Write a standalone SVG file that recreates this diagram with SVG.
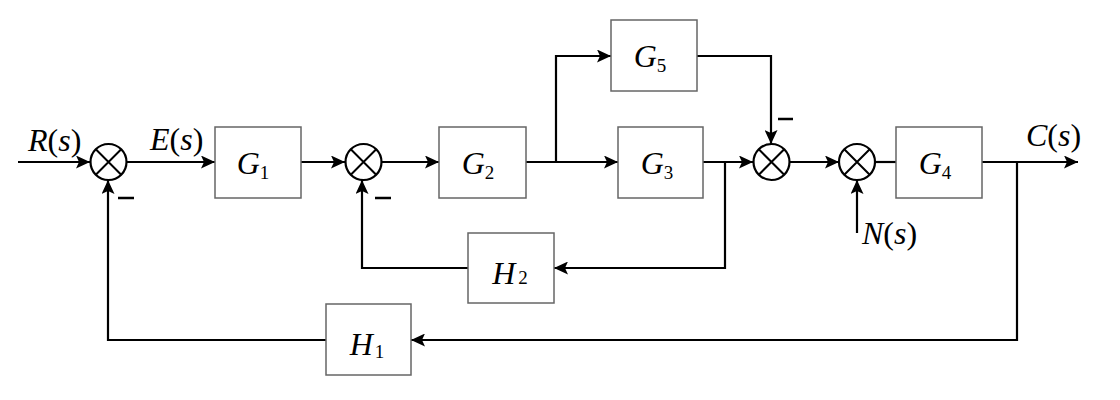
<svg xmlns="http://www.w3.org/2000/svg" width="1120" height="400" viewBox="0 0 1120 400">
<defs>
<marker id="arr" viewBox="0 0 14 13" refX="14" refY="6.5" markerWidth="14" markerHeight="13" markerUnits="userSpaceOnUse" orient="auto">
<path d="M0,0 L14,6.5 L0,13 L3,6.5 Z" fill="#000"/>
</marker>
<style>
.blk{fill:#fff;stroke:#666;stroke-width:1.5}
.sum{fill:#fff;stroke:#000;stroke-width:2.2}
.x{stroke:#000;stroke-width:2}
.ln{fill:none;stroke:#000;stroke-width:2.2}
.a{marker-end:url(#arr)}
.lbl{font-family:"Liberation Serif","Times New Roman",serif;font-size:32px;fill:#000}
.it{font-style:italic}
.sub{font-size:19px;font-style:normal}
.minus{stroke:#000;stroke-width:2.6}
</style>
</defs>
<rect width="1120" height="400" fill="#fff"/>
<g id="connectors">
<path class="ln a" d="M18,162 H90"/>
<path class="ln a" d="M127,162 H215"/>
<path class="ln a" d="M301,162 H345"/>
<path class="ln a" d="M382,162 H439"/>
<path class="ln a" d="M526,162 H618"/>
<path class="ln a" d="M556,162 V56 H611"/>
<path class="ln a" d="M703,162 H753"/>
<path class="ln a" d="M697,56 H771 V144"/>
<path class="ln a" d="M790,162 H839"/>
<path class="ln" d="M875,162 H896"/>
<path class="ln a" d="M982,162 H1078"/>
<path class="ln a" d="M725,162 V268 H554"/>
<path class="ln a" d="M468,268 H362 V180"/>
<path class="ln a" d="M1017,162 V340 H411"/>
<path class="ln a" d="M326,340 H108 V180"/>
<path class="ln a" d="M857,233 V180"/>
<path class="minus" d="M118,198 H134 M375,198 H391 M778,119 H793"/>
</g>
<g id="sum1"><circle class="sum" cx="108.5" cy="162" r="18"/><path class="x" d="M95.8,149.3 L121.2,174.7 M121.2,149.3 L95.8,174.7"/></g>
<g id="sum2"><circle class="sum" cx="363.5" cy="162" r="18"/><path class="x" d="M350.8,149.3 L376.2,174.7 M376.2,149.3 L350.8,174.7"/></g>
<g id="sum3"><circle class="sum" cx="771.5" cy="162" r="18"/><path class="x" d="M758.8,149.3 L784.2,174.7 M784.2,149.3 L758.8,174.7"/></g>
<g id="sum4"><circle class="sum" cx="857" cy="162" r="18"/><path class="x" d="M844.3,149.3 L869.7,174.7 M869.7,149.3 L844.3,174.7"/></g>
<g id="G1"><rect class="blk" x="215" y="127" width="86" height="71"/><text class="lbl" x="253" y="174" text-anchor="middle"><tspan class="it">G</tspan><tspan class="sub" dy="5">1</tspan></text></g>
<g id="G2"><rect class="blk" x="439" y="127" width="87" height="71"/><text class="lbl" x="478" y="174" text-anchor="middle"><tspan class="it">G</tspan><tspan class="sub" dy="5">2</tspan></text></g>
<g id="G3"><rect class="blk" x="618" y="127" width="85" height="71"/><text class="lbl" x="657" y="174" text-anchor="middle"><tspan class="it">G</tspan><tspan class="sub" dy="5">3</tspan></text></g>
<g id="G5"><rect class="blk" x="611" y="20" width="86" height="71"/><text class="lbl" x="650" y="67" text-anchor="middle"><tspan class="it">G</tspan><tspan class="sub" dy="5">5</tspan></text></g>
<g id="G4"><rect class="blk" x="896" y="127" width="86" height="71"/><text class="lbl" x="935" y="174" text-anchor="middle"><tspan class="it">G</tspan><tspan class="sub" dy="5">4</tspan></text></g>
<g id="H2"><rect class="blk" x="468" y="233" width="86" height="70"/><text class="lbl" x="510" y="284" text-anchor="middle"><tspan class="it">H</tspan><tspan class="sub" dx="3">2</tspan></text></g>
<g id="H1"><rect class="blk" x="326" y="304" width="85" height="71"/><text class="lbl" x="367" y="355" text-anchor="middle"><tspan class="it">H</tspan><tspan class="sub" dx="2" dy="3">1</tspan></text></g>
<g id="labels">
<text class="lbl" x="28" y="151"><tspan class="it">R</tspan>(<tspan class="it">s</tspan>)</text>
<text class="lbl" x="150" y="150"><tspan class="it">E</tspan>(<tspan class="it">s</tspan>)</text>
<text class="lbl" x="1026" y="146"><tspan class="it">C</tspan>(<tspan class="it">s</tspan>)</text>
<text class="lbl" x="862" y="244"><tspan class="it">N</tspan>(<tspan class="it">s</tspan>)</text>
</g>
</svg>
